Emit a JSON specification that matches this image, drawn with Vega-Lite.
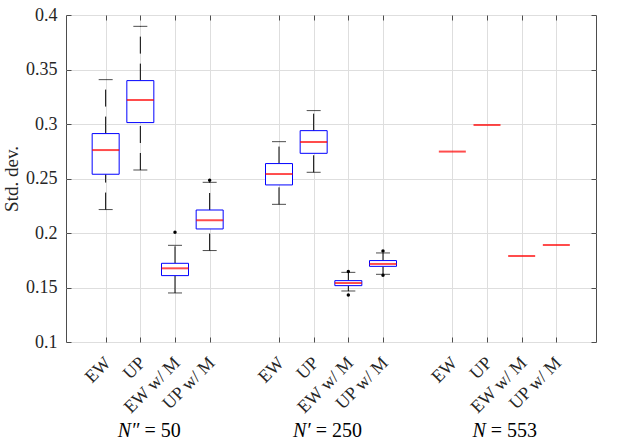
{
  "$schema": "https://vega.github.io/schema/vega-lite/v6.json",
  "width": 530,
  "height": 327,
  "autosize": "none",
  "padding": {"left": 66, "top": 15, "right": 26, "bottom": 101},
  "background": "white",
  "config": {
    "font": "Liberation Serif",
    "view": {"stroke": "#4d4d4d", "strokeWidth": 1}
  },
  "datasets": {
    "boxes": [
      {"pos": 1, "lo": 0.2215, "q1": 0.2539, "med": 0.2761, "q3": 0.2912, "hi": 0.3407},
      {"pos": 2, "lo": 0.2578, "q1": 0.3013, "med": 0.322, "q3": 0.3398, "hi": 0.3896},
      {"pos": 3, "lo": 0.145, "q1": 0.1609, "med": 0.1676, "q3": 0.1722, "hi": 0.1887},
      {"pos": 4, "lo": 0.1839, "q1": 0.2037, "med": 0.2117, "q3": 0.2211, "hi": 0.2465},
      {"pos": 6, "lo": 0.2263, "q1": 0.2441, "med": 0.2541, "q3": 0.2637, "hi": 0.2838},
      {"pos": 7, "lo": 0.2557, "q1": 0.2731, "med": 0.2835, "q3": 0.2939, "hi": 0.3123},
      {"pos": 8, "lo": 0.1468, "q1": 0.1517, "med": 0.1541, "q3": 0.1563, "hi": 0.1639},
      {"pos": 9, "lo": 0.1621, "q1": 0.1694, "med": 0.1716, "q3": 0.1747, "hi": 0.1817},
      {"pos": 11, "med": 0.2747},
      {"pos": 12, "med": 0.2991},
      {"pos": 13, "med": 0.1789},
      {"pos": 14, "med": 0.189}
    ],
    "outliers": [
      {"pos": 3, "v": 0.2006},
      {"pos": 4, "v": 0.2483},
      {"pos": 8, "v": 0.1646},
      {"pos": 8, "v": 0.1431},
      {"pos": 9, "v": 0.1835},
      {"pos": 9, "v": 0.1612}
    ],
    "groups": [
      {"pos": 2.06, "sym": "N″", "rest": "= 50"},
      {"pos": 7.0, "sym": "N′", "rest": "= 250"},
      {"pos": 12.05, "sym": "N", "rest": "= 553"}
    ]
  },
  "encoding": {
    "x": {"field": "pos", "type": "quantitative", "scale": {"domain": [0, 15], "nice": false, "zero": false}, "axis": null}
  },
  "layer": [
    {
      "data": {"name": "boxes"},
      "transform": [{"filter": "isValid(datum.q1)"}],
      "mark": {"type": "rule", "color": "black", "strokeWidth": 1, "strokeDash": [17, 10]},
      "encoding": {
        "y": {"field": "lo", "type": "quantitative", "scale": {"domain": [0.1, 0.4], "nice": false, "zero": false}, "axis": null},
        "y2": {"field": "q1"}
      }
    },
    {
      "data": {"name": "boxes"},
      "transform": [{"filter": "isValid(datum.q1)"}],
      "mark": {"type": "rule", "color": "black", "strokeWidth": 1, "strokeDash": [17, 10]},
      "encoding": {
        "y": {"field": "q3", "type": "quantitative", "scale": {"domain": [0.1, 0.4], "nice": false, "zero": false}, "axis": null},
        "y2": {"field": "hi"}
      }
    },
    {
      "data": {"name": "boxes"},
      "transform": [{"filter": "isValid(datum.q1)"}],
      "mark": {"type": "tick", "orient": "horizontal", "color": "black", "size": 14, "thickness": 1},
      "encoding": {
        "y": {"field": "lo", "type": "quantitative", "scale": {"domain": [0.1, 0.4], "nice": false, "zero": false}, "axis": null}
      }
    },
    {
      "data": {"name": "boxes"},
      "transform": [{"filter": "isValid(datum.q1)"}],
      "mark": {"type": "tick", "orient": "horizontal", "color": "black", "size": 14, "thickness": 1},
      "encoding": {
        "y": {"field": "hi", "type": "quantitative", "scale": {"domain": [0.1, 0.4], "nice": false, "zero": false}, "axis": null}
      }
    },
    {
      "data": {"name": "boxes"},
      "transform": [{"filter": "isValid(datum.q1)"}],
      "mark": {"type": "bar", "width": 27, "fill": "white", "stroke": "#0000ff", "strokeWidth": 1},
      "encoding": {
        "x": {
          "field": "pos", "type": "quantitative",
          "scale": {"domain": [0, 15], "nice": false, "zero": false},
          "axis": {
            "orient": "bottom",
            "values": [1, 2, 3, 4, 6, 7, 8, 9, 11, 12, 13, 14],
            "labelExpr": "['', 'EW', 'UP', 'EW w/ M', 'UP w/ M'][datum.value % 5]",
            "labelAngle": -45,
            "labelAlign": "right",
            "labelBaseline": "middle",
            "labelPadding": 23,
            "labelOffset": 2,
            "labelOverlap": false,
            "labelFont": "Liberation Serif",
            "labelFontSize": 18,
            "labelColor": "#262626",
            "domain": false,
            "tickSize": -5,
            "tickColor": "#4d4d4d",
            "grid": true,
            "gridColor": "#dedede",
            "gridWidth": 1,
            "title": null
          }
        },
        "y": {
          "field": "q1", "type": "quantitative",
          "scale": {"domain": [0.1, 0.4], "nice": false, "zero": false},
          "axis": {
            "orient": "left",
            "values": [0.1, 0.15, 0.2, 0.25, 0.3, 0.35, 0.4],
            "format": "~g",
            "labelPadding": 14,
            "labelFont": "Liberation Serif",
            "labelFontSize": 18,
            "labelColor": "#262626",
            "labelOverlap": false,
            "domain": false,
            "tickSize": -5,
            "tickColor": "#4d4d4d",
            "grid": true,
            "gridColor": "#dedede",
            "gridWidth": 1,
            "title": "Std. dev.",
            "titleFont": "Liberation Serif",
            "titleFontSize": 19,
            "titleFontWeight": "normal",
            "titleColor": "#262626",
            "titlePadding": 4
          }
        },
        "y2": {"field": "q3"}
      }
    },
    {
      "data": {"name": "boxes"},
      "mark": {"type": "tick", "orient": "horizontal", "color": "#ff0000", "size": 27, "thickness": 2},
      "encoding": {
        "x": {
          "field": "pos", "type": "quantitative",
          "scale": {"domain": [0, 15], "nice": false, "zero": false},
          "axis": {"orient": "top", "values": [1, 2, 3, 4, 6, 7, 8, 9, 11, 12, 13, 14], "labels": false, "domain": false, "tickSize": -5, "tickColor": "#4d4d4d", "grid": false, "title": null}
        },
        "y": {
          "field": "med", "type": "quantitative",
          "scale": {"domain": [0.1, 0.4], "nice": false, "zero": false},
          "axis": {"orient": "right", "values": [0.1, 0.15, 0.2, 0.25, 0.3, 0.35, 0.4], "labels": false, "domain": false, "tickSize": -5, "tickColor": "#4d4d4d", "grid": false, "title": null}
        }
      }
    },
    {
      "data": {"name": "outliers"},
      "mark": {"type": "point", "filled": true, "color": "black", "size": 12, "opacity": 1},
      "encoding": {
        "y": {"field": "v", "type": "quantitative", "scale": {"domain": [0.1, 0.4], "nice": false, "zero": false}, "axis": null}
      }
    },
    {
      "data": {"name": "groups"},
      "mark": {"type": "text", "font": "Liberation Serif", "align": "right", "baseline": "alphabetic", "fontSize": 20, "fontStyle": "italic", "dx": -3, "dy": 95, "color": "black"},
      "encoding": {
        "y": {"datum": 0.1, "type": "quantitative", "scale": {"domain": [0.1, 0.4], "nice": false, "zero": false}, "axis": null},
        "text": {"field": "sym"}
      }
    },
    {
      "data": {"name": "groups"},
      "mark": {"type": "text", "font": "Liberation Serif", "align": "left", "baseline": "alphabetic", "fontSize": 20, "dx": 2, "dy": 95, "color": "black"},
      "encoding": {
        "y": {"datum": 0.1, "type": "quantitative", "scale": {"domain": [0.1, 0.4], "nice": false, "zero": false}, "axis": null},
        "text": {"field": "rest"}
      }
    }
  ],
  "resolve": {"axis": {"x": "independent", "y": "independent"}}
}
